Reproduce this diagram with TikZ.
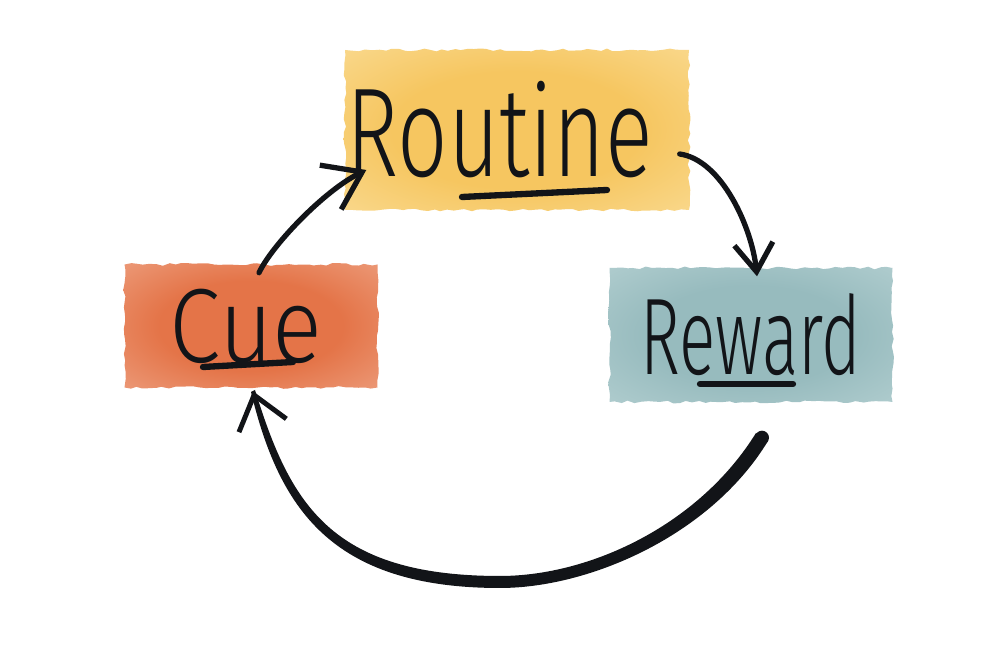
\documentclass[tikz,border=0pt]{standalone}
\usepackage{fontspec}
\setmainfont{Fira Sans Light}
\usetikzlibrary{arrows.meta,decorations.pathmorphing,calc}

\definecolor{ink}{HTML}{121418}
\definecolor{routinein}{HTML}{F6C660}
\definecolor{routineout}{HTML}{FBE2A4}
\definecolor{cuein}{HTML}{E47448}
\definecolor{cueout}{HTML}{F0AE92}
\definecolor{rewardin}{HTML}{97BBBE}
\definecolor{rewardout}{HTML}{BDD6D7}

% watercolour washes: dark middle, pale rim
\pgfdeclareradialshading{routinewash}{\pgfpoint{0bp}{0bp}}{color(0bp)=(routinein); color(18bp)=(routinein); color(46bp)=(routineout); color(50bp)=(routineout)}
\pgfdeclareradialshading{cuewash}{\pgfpoint{0bp}{0bp}}{color(0bp)=(cuein); color(18bp)=(cuein); color(46bp)=(cueout); color(50bp)=(cueout)}
\pgfdeclareradialshading{rewardwash}{\pgfpoint{0bp}{0bp}}{color(0bp)=(rewardin); color(18bp)=(rewardin); color(46bp)=(rewardout); color(50bp)=(rewardout)}

\tikzset{
	blob/.style={shade, inner sep=0pt, text=ink, decorate,
		decoration={random steps, segment length=1.8pt, amplitude=0.4pt}},
	uline/.style={draw=ink, line width=1.8pt, line cap=round},
	flow/.style 2 args={draw=ink, line width=1.5pt, line cap=round,
		-{Straight Barb[length=#1, width=#2, line width=1.5pt]}},
}
\newcommand{\hand}[3]{\scalebox{#1}[1]{\fontsize{#2}{#2}\selectfont #3}}

\begin{document}
\begin{tikzpicture}[x=0.1mm,y=-0.1mm]
\pgfmathsetseed{11}
\fill[white] (0,0) rectangle (1000,667);
\useasboundingbox (0,0) rectangle (1000,667);
%========================================
% the three washes
%========================================
\node[blob, shading=routinewash, minimum width=34.4mm, minimum height=16mm]
	(routine) at (517,130) {\hand{0.7}{36}{Routine}\kern3.5mm};
\node[blob, shading=cuewash, minimum width=25.3mm, minimum height=12.3mm]
	(cue) at (251,326) {\hand{0.88}{30}{Cue}\kern1mm};
\node[blob, shading=rewardwash, minimum width=28.3mm, minimum height=13.4mm]
	(reward) at (751,335) {\hand{0.62}{31}{Reward}};
% underlines
\draw[uline] ($(routine.center)+(-55,67)$) -- ($(routine.center)+(90,60)$);
\draw[uline] ($(cue.center)+(-48,41)$) -- ($(cue.center)+(42,36)$);
\draw[uline] ($(reward.center)+(-51,49)$) -- ($(reward.center)+(42,49)$);
%========================================
% arrows round the loop
%========================================
\coordinate (cuetop) at ($(cue.north)+(8,9)$);
\coordinate (routinein) at ($(routine.west)+(22,40)$);
\coordinate (routineout) at ($(routine.east)+(-10,24)$);
\coordinate (rewardtop) at ($(reward.north)+(6,9)$);
\coordinate (loopstart) at ($(reward.south)+(11,35)$);
\coordinate (looptip) at ($(cue.south)+(2,3)$);
% cue -> routine
\draw[flow={10pt}{14pt}] (cuetop) .. controls (272,245) and (325,190) .. (routinein);
% routine -> reward
\draw[flow={8pt}{11pt}] (routineout) .. controls (722,160) and (752,228) .. (rewardtop);
% reward -> cue, heavy brush stroke thinning out
\fill[ink] (768,441) .. controls (711,535) and (590,588) .. (500,588)
	.. controls (330,588) and (279,507) .. (251,392) -- (255,390)
	.. controls (290,503) and (330,576) .. (500,576)
	.. controls (590,576) and (699,525) .. (756,433) -- cycle;
\fill[ink] (loopstart) circle (0.7mm);
\draw[ink, line width=1pt, -{Straight Barb[length=9pt, width=14pt, line width=1.4pt]}]
	(loopstart) .. controls (705,530) and (590,582) .. (500,582)
	.. controls (330,582) and (285,505) .. (looptip);
\end{tikzpicture}
\end{document}
